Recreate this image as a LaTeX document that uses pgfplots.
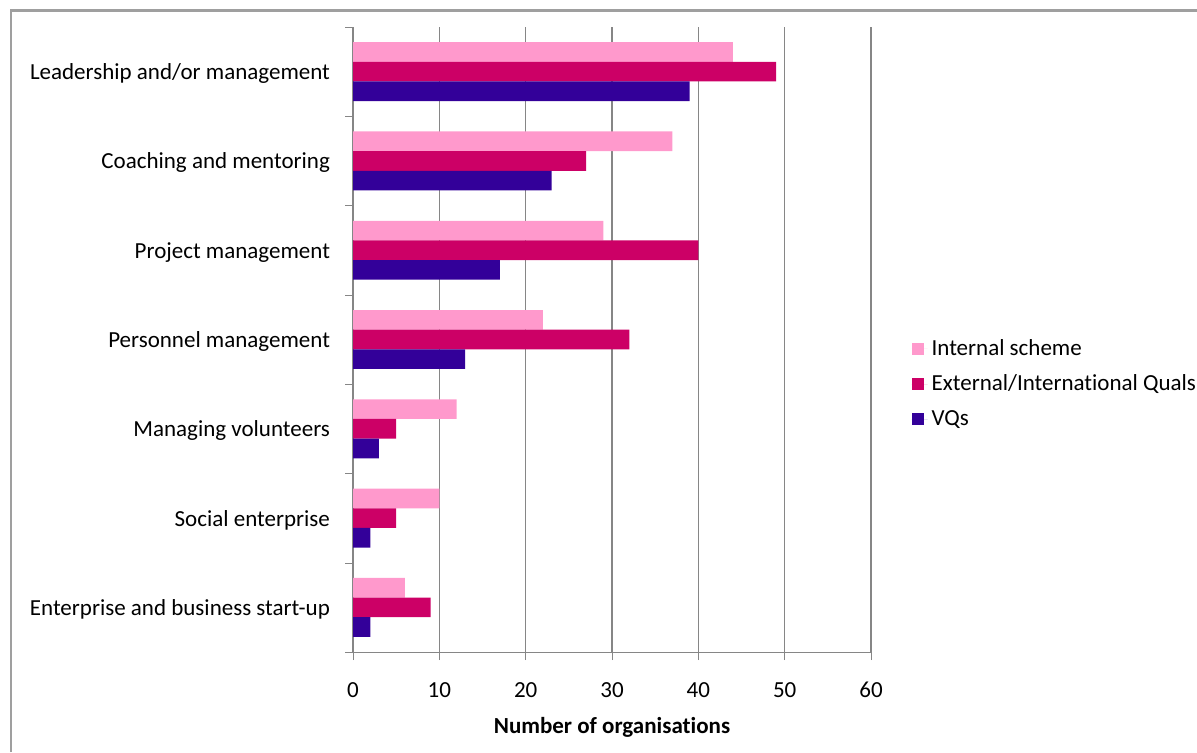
\documentclass[border=0pt]{standalone}
\usepackage{pgfplots}
\pgfplotsset{compat=1.18}
\usepackage{fontspec}
\setmainfont{Carlito}[Ligatures=NoCommon]
\definecolor{cInt}{HTML}{FF99CC}
\definecolor{cExt}{HTML}{CC0066}
\definecolor{cVQ}{HTML}{330099}
\definecolor{gridc}{HTML}{868686}
\begin{document}
\fontsize{11.5pt}{13.8pt}\selectfont
\begin{tikzpicture}[x=0.5pt,y=0.5pt]
\useasboundingbox (0,0) rectangle (1197,752);
\draw[color=gray!75,line width=1pt] (10.5,0) -- (10.5,741.5) -- (1197,741.5);
\begin{axis}[
  at={(176.5pt,50pt)}, anchor=south west,
  scale only axis, width=259pt, height=312.5pt,
  xbar, bar width=0.22,
  xmin=0, xmax=60, ymin=-0.5, ymax=6.5,
  xtick={0,10,...,60},
  ytick={0,...,6},
  yticklabels={Enterprise and business start-up,Social enterprise,Managing volunteers,Personnel management,Project management,Coaching and mentoring,Leadership and/or management},
  axis x line=bottom, axis y line=left,
  axis line style={draw=gridc,-},
  xmajorgrids, major grid style={draw=gridc,line width=0.6pt},
  tick align=outside,
  xtick style={draw=gridc},
  ytick style={draw=none},
  major tick length=4pt,
  extra y ticks={-0.5,0.5,...,6.5},
  extra y tick labels={},
  extra y tick style={ytick style={draw=gridc}, grid=none},
  xticklabel style={yshift=-7pt},
  yticklabel style={xshift=-3.5pt, yshift=-1pt},
  tick label style={font=\fontsize{11.5pt}{13pt}\selectfont},
  /pgf/number format/assume math mode=true,
  xlabel={\textbf{Number of organisations}},
  xlabel style={font=\fontsize{11.5pt}{13pt}\selectfont, yshift=-2pt},
  legend style={at={(1.066,0.429)}, anchor=west, draw=none, fill=none,
    font=\fontsize{11.5pt}{13pt}\selectfont, row sep=4pt,
    legend cell align=left},
  legend image code/.code={\fill[#1] (0pt,-3pt) rectangle (6pt,3pt); \path (0pt,0pt) -- (8pt,0pt);},
]
\addplot[fill=cInt, draw=none, bar shift=0.22] coordinates {(6,0) (10,1) (12,2) (22,3) (29,4) (37,5) (44,6)};
\addplot[fill=cExt, draw=none, bar shift=0] coordinates {(9,0) (5,1) (5,2) (32,3) (40,4) (27,5) (49,6)};
\addplot[fill=cVQ, draw=none, bar shift=-0.22] coordinates {(2,0) (2,1) (3,2) (13,3) (17,4) (23,5) (39,6)};
\legend{Internal scheme, External/International Quals, VQs}
\end{axis}
\end{tikzpicture}
\end{document}
